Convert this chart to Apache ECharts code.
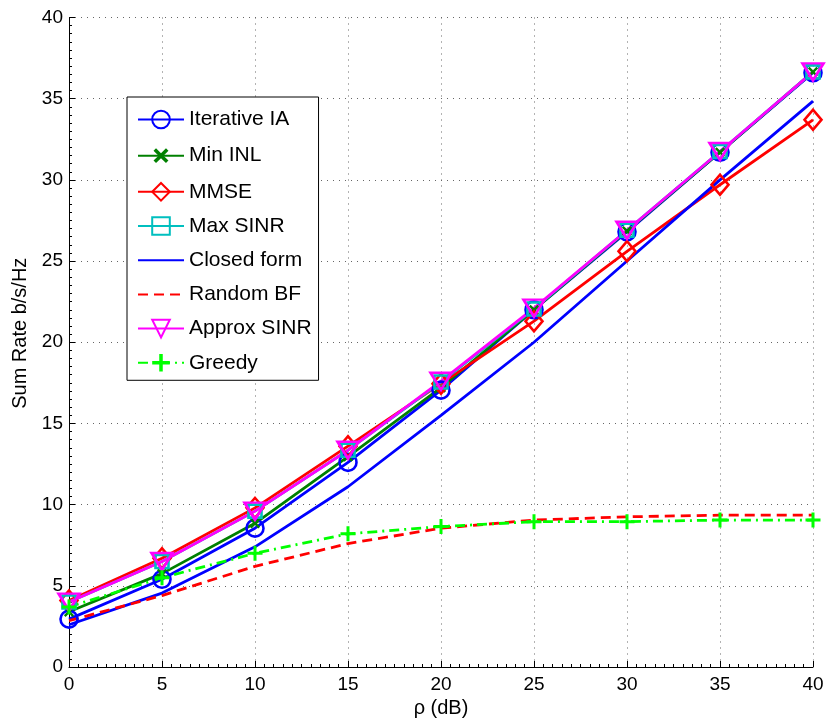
<!DOCTYPE html>
<html>
<head>
<meta charset="utf-8">
<script src="https://cdn.jsdelivr.net/npm/echarts@6/dist/echarts.min.js"></script>
<style>
html,body{margin:0;padding:0;background:#fff;}
#chart{width:827px;height:719px;}
</style>
</head>
<body>
<div id="chart"></div>
<script>
// ---- data ----
var rho = [0, 5, 10, 15, 20, 25, 30, 35, 40];
var seriesNames = ['Iterative IA', 'Min INL', 'MMSE', 'Max SINR', 'Closed form', 'Random BF', 'Approx SINR', 'Greedy'];
var iterativeIA = [2.95, 5.4, 8.55, 12.6, 17.05, 22.0, 26.8, 31.7, 36.6];
var minINL      = [3.4, 5.75, 8.85, 12.95, 17.2, 22.0, 26.85, 31.7, 36.65];
var mmse        = [4.1, 6.7, 9.8, 13.6, 17.45, 21.3, 25.6, 29.7, 33.7];
var maxSINR     = [4.0, 6.5, 9.6, 13.35, 17.55, 22.05, 26.9, 31.75, 36.65];
var closedForm  = [2.6, 4.55, 7.4, 11.1, 15.5, 20.0, 25.0, 30.0, 34.85];
var randomBF    = [2.85, 4.4, 6.2, 7.6, 8.55, 9.05, 9.25, 9.35, 9.35];
var approxSINR  = [4.0, 6.5, 9.6, 13.35, 17.6, 22.1, 26.9, 31.75, 36.65];
var greedy      = [3.7, 5.5, 7.0, 8.2, 8.65, 8.95, 8.95, 9.05, 9.05];
var yTicks = [0, 5, 10, 15, 20, 25, 30, 35, 40];

function pairs(ys) { return rho.map(function (x, i) { return [x, ys[i]]; }); }

var FONT = '"Liberation Sans", Arial, sans-serif';
var PLUS = 'path://M4,0h2v4h4v2h-4v4h-2v-4h-4v-2h4z';

function mk(name, data, color, opts) {
  return {
    name: name,
    type: 'line',
    data: pairs(data),
    symbol: opts.symbol,
    symbolSize: opts.size,
    symbolRotate: opts.rotate || 0,
    showSymbol: true,
    lineStyle: { color: color, width: opts.lw || 2.8, type: opts.dash || 'solid' },
    itemStyle: opts.fill ? { color: color, borderWidth: 0 } :
      { color: 'rgba(0,0,0,0)', borderColor: opts.noMarker ? 'rgba(0,0,0,0)' : color, borderWidth: opts.noMarker ? 0 : 2.6 },
    emphasis: { disabled: true },
    animation: false
  };
}

var series = [
  mk(seriesNames[0], iterativeIA, '#0000ff', { symbol: 'circle', size: 17 }),
  mk(seriesNames[1], minINL, '#008000', { symbol: PLUS, size: 12, rotate: 45, fill: true }),
  mk(seriesNames[2], mmse, '#ff0000', { symbol: 'diamond', size: [17, 20] }),
  mk(seriesNames[3], maxSINR, '#00bfbf', { symbol: 'rect', size: 13 }),
  mk(seriesNames[4], closedForm, '#0000ff', { symbol: 'circle', size: 0, noMarker: true }),
  mk(seriesNames[5], randomBF, '#ff0000', { symbol: 'circle', size: 0, noMarker: true, dash: [10, 6] }),
  mk(seriesNames[6], approxSINR, '#ff00ff', { symbol: 'triangle', size: [21, 17], rotate: 180 }),
  mk(seriesNames[7], greedy, '#00ff00', { symbol: PLUS, size: 15, fill: true, dash: [10, 5, 2, 5] })
];

var chart = echarts.init(document.getElementById('chart'), null, { renderer: 'canvas' });
chart.setOption({
  backgroundColor: '#ffffff',
  animation: false,
  grid: { left: 69, right: 14, top: 17.5, bottom: 52, containLabel: false, outerBoundsMode: 'none' },
  xAxis: {
    type: 'value', min: 0, max: 40, interval: 5,
    name: 'ρ (dB)', nameLocation: 'middle', nameGap: 30,
    nameTextStyle: { fontFamily: FONT, fontSize: 20, color: '#000' },
    axisLine: { show: true, onZero: false, lineStyle: { color: '#000', width: 1 } },
    axisTick: { show: true, inside: true, length: 6, lineStyle: { color: '#000' } },
    minorTick: { show: true, splitNumber: 10, length: 3, lineStyle: { color: '#000' } },
    axisLabel: { fontFamily: FONT, fontSize: 19, color: '#000', margin: 8 },
    splitLine: { show: true, lineStyle: { color: '#666', type: [1, 5], width: 1 } }
  },
  yAxis: {
    type: 'value', min: 0, max: 40, interval: 5,
    name: 'Sum Rate b/s/Hz', nameLocation: 'middle', nameGap: 33,
    nameTextStyle: { fontFamily: FONT, fontSize: 20, color: '#000', padding: [0, 0, 0, 18] },
    axisLine: { show: true, onZero: false, lineStyle: { color: '#000', width: 1 } },
    axisTick: { show: true, inside: true, length: 6, lineStyle: { color: '#000' } },
    minorTick: { show: true, splitNumber: 10, length: 3, lineStyle: { color: '#000' } },
    axisLabel: { fontFamily: FONT, fontSize: 19, color: '#000', margin: 6 },
    splitLine: { show: true, lineStyle: { color: '#666', type: [1, 5], width: 1 } }
  },
  legend: {
    show: true,
    orient: 'vertical',
    left: 127, top: 97,
    padding: [12, 7, 7, 10],
    itemWidth: 46, itemHeight: 22, itemGap: 13.2,
    backgroundColor: '#fff',
    borderColor: '#000', borderWidth: 1,
    textStyle: { fontFamily: FONT, fontSize: 21, color: '#000' },
    data: seriesNames,
    selectedMode: false
  },
  series: series
});
</script>
</body>
</html>
